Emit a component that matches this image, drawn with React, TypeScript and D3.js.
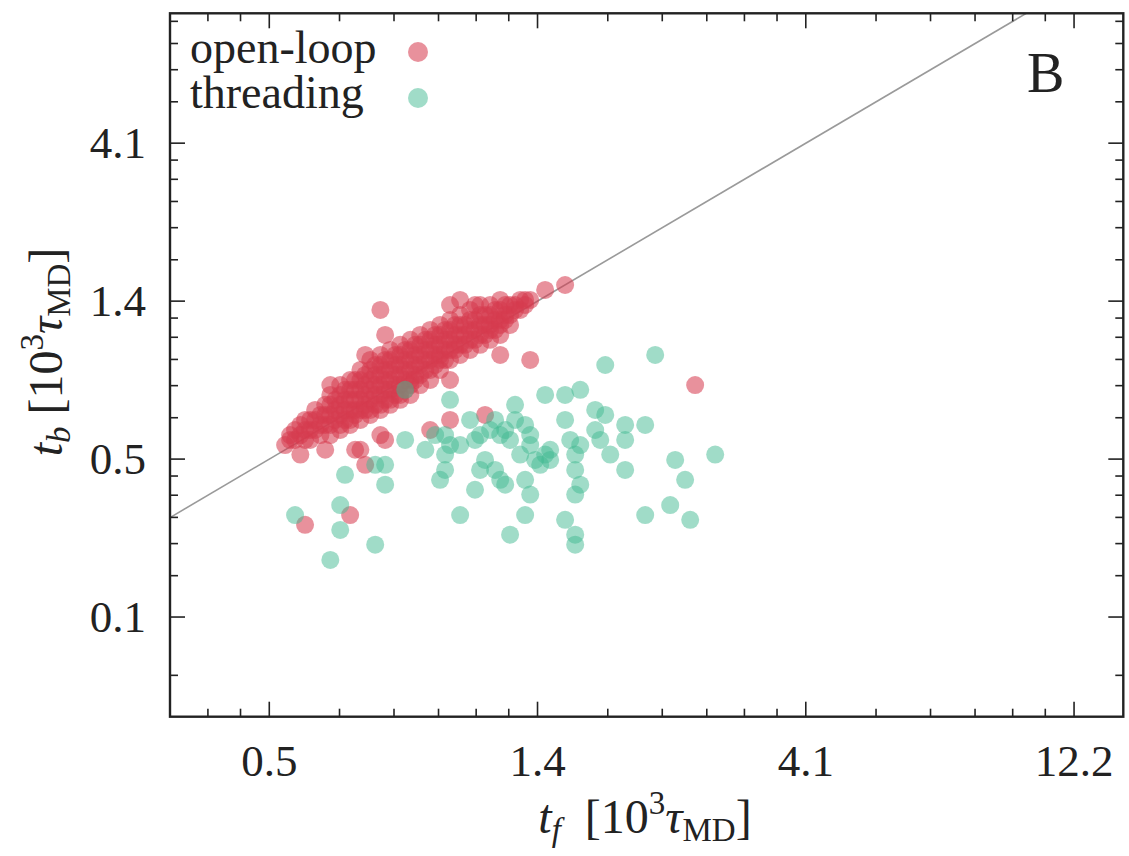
import React from "react";
import * as d3 from "d3";

// ---- axes / ticks ----
const xTickValues = [0.4517, 1.355, 4.065, 12.195];
const xTickLabels = ["0.5", "1.4", "4.1", "12.2"];
const yTickValues = [0.1506, 0.4517, 1.355, 4.065];
const yTickLabels = ["0.1", "0.5", "1.4", "4.1"];
const xDomain = [0.3008, 14.92];
const yDomain = [0.0753, 10.03];

// ---- data: [t_f, t_b] in 10^3 tau_MD ----
const openLoop: [number, number][] = [
  // dense band
  [0.492, 0.534], [0.492, 0.516],
  [0.502, 0.553], [0.502, 0.516],
  [0.513, 0.573], [0.513, 0.534],
  [0.523, 0.593], [0.523, 0.553], [0.523, 0.516],
  [0.534, 0.593], [0.534, 0.553],
  [0.545, 0.636], [0.545, 0.593], [0.545, 0.553],
  [0.557, 0.614], [0.557, 0.573],
  [0.568, 0.659], [0.568, 0.614], [0.568, 0.573],
  [0.58, 0.659], [0.58, 0.614], [0.58, 0.573],
  [0.592, 0.682], [0.592, 0.636], [0.592, 0.593],
  [0.604, 0.706], [0.604, 0.659], [0.604, 0.614], [0.604, 0.573],
  [0.616, 0.731], [0.616, 0.682], [0.616, 0.636], [0.616, 0.593],
  [0.629, 0.731], [0.629, 0.682], [0.629, 0.636], [0.629, 0.593],
  [0.642, 0.783], [0.642, 0.731], [0.642, 0.682], [0.642, 0.636], [0.642, 0.614],
  [0.656, 0.783], [0.656, 0.731], [0.656, 0.682], [0.656, 0.636],
  [0.669, 0.811], [0.669, 0.756], [0.669, 0.706], [0.669, 0.659], [0.669, 0.636],
  [0.683, 0.84], [0.683, 0.783], [0.683, 0.731], [0.683, 0.682], [0.683, 0.636],
  [0.697, 0.869], [0.697, 0.811], [0.697, 0.756], [0.697, 0.706], [0.697, 0.659],
  [0.712, 0.869], [0.712, 0.811], [0.712, 0.756], [0.712, 0.706], [0.712, 0.659],
  [0.726, 0.9], [0.726, 0.84], [0.726, 0.783], [0.726, 0.731], [0.726, 0.682],
  [0.741, 0.9], [0.741, 0.84], [0.741, 0.783], [0.741, 0.731], [0.741, 0.682],
  [0.757, 0.932], [0.757, 0.869], [0.757, 0.811], [0.757, 0.756], [0.757, 0.706],
  [0.772, 0.932], [0.772, 0.869], [0.772, 0.811], [0.772, 0.756], [0.772, 0.706],
  [0.788, 0.965], [0.788, 0.9], [0.788, 0.84], [0.788, 0.783], [0.788, 0.731],
  [0.805, 0.965], [0.805, 0.9], [0.805, 0.84], [0.805, 0.783], [0.805, 0.756],
  [0.821, 1.0], [0.821, 0.932], [0.821, 0.869], [0.821, 0.811], [0.821, 0.783],
  [0.838, 1.0], [0.838, 0.932], [0.838, 0.869], [0.838, 0.811],
  [0.856, 1.035], [0.856, 0.965], [0.856, 0.9], [0.856, 0.84],
  [0.873, 1.035], [0.873, 0.965], [0.873, 0.9], [0.873, 0.84],
  [0.891, 1.071], [0.891, 1.0], [0.891, 0.932], [0.891, 0.869],
  [0.909, 1.071], [0.909, 1.0], [0.909, 0.932], [0.909, 0.9],
  [0.928, 1.109], [0.928, 1.035], [0.928, 0.965], [0.928, 0.9],
  [0.947, 1.109], [0.947, 1.035], [0.947, 0.965],
  [0.967, 1.148], [0.967, 1.071], [0.967, 1.0], [0.967, 0.965],
  [0.987, 1.148], [0.987, 1.071], [0.987, 1.0],
  [1.007, 1.148], [1.007, 1.071], [1.007, 1.0],
  [1.028, 1.189], [1.028, 1.109], [1.028, 1.035],
  [1.049, 1.189], [1.049, 1.109], [1.049, 1.035],
  [1.071, 1.231], [1.071, 1.148], [1.071, 1.071],
  [1.093, 1.231], [1.093, 1.148], [1.093, 1.071],
  [1.116, 1.231], [1.116, 1.148], [1.116, 1.109],
  [1.139, 1.275], [1.139, 1.189], [1.139, 1.109],
  [1.163, 1.275], [1.163, 1.189], [1.163, 1.148],
  [1.187, 1.319], [1.187, 1.231], [1.187, 1.189],
  [1.211, 1.319], [1.211, 1.231],
  [1.236, 1.319], [1.236, 1.275],
  [1.262, 1.366], [1.262, 1.275],
  [1.288, 1.366], [1.288, 1.319],
  [1.315, 1.366],
  // upper edge of band
  [0.58, 0.706], [0.604, 0.756], [0.629, 0.783], [0.656, 0.84], [0.683, 0.9],
  [0.712, 0.932], [0.741, 0.965], [0.772, 1.0], [0.805, 1.035], [0.838, 1.071],
  [0.873, 1.109], [0.909, 1.148], [0.947, 1.189], [0.987, 1.231], [1.028, 1.275],
  [1.071, 1.319], [1.116, 1.319], [1.163, 1.366],
  // lower edge of band
  [0.534, 0.516], [0.557, 0.534], [0.58, 0.534], [0.604, 0.553], [0.629, 0.573],
  [0.656, 0.593], [0.683, 0.614], [0.712, 0.636], [0.741, 0.659], [0.772, 0.682],
  [0.805, 0.706], [0.838, 0.756], [0.873, 0.783], [0.909, 0.84], [0.947, 0.9],
  [0.987, 0.932], [1.028, 0.965], [1.071, 1.0], [1.116, 1.035], [1.163, 1.071],
  [1.211, 1.148],
  // scattered
  [0.58, 0.756], [0.482, 0.498], [0.523, 0.286], [0.629, 0.306], [0.656, 0.482],
  [0.669, 0.434], [0.712, 0.534], [0.873, 0.553], [0.947, 0.593], [1.093, 0.614],
  [2.584, 0.756], [0.513, 0.466], [0.568, 0.482], [0.712, 1.275], [0.726, 1.071],
  [0.669, 0.932], [0.947, 1.319], [1.049, 1.319], [0.987, 1.366], [1.315, 0.9],
  [1.163, 0.932], [0.947, 0.783], [0.642, 0.482], [0.726, 0.516], [1.398, 1.465],
  [1.517, 1.516],
];

const threading: [number, number][] = [
  [0.947, 0.682], [1.236, 0.659], [1.398, 0.706], [1.614, 0.731], [1.517, 0.706],
  [1.788, 0.869], [2.194, 0.932], [1.028, 0.593], [1.139, 0.593], [1.187, 0.553],
  [1.236, 0.593], [1.071, 0.534], [1.163, 0.534], [1.315, 0.534], [1.517, 0.593],
  [1.716, 0.636], [1.788, 0.614], [1.716, 0.553], [1.94, 0.573], [2.106, 0.573],
  [1.94, 0.516], [1.825, 0.466], [1.752, 0.516], [1.549, 0.516], [1.614, 0.498],
  [1.581, 0.466], [1.581, 0.419], [1.614, 0.378], [1.581, 0.353], [1.398, 0.466],
  [1.342, 0.449], [1.427, 0.449], [1.37, 0.434], [1.427, 0.482], [1.262, 0.466],
  [1.315, 0.498], [0.788, 0.516], [0.856, 0.482], [0.891, 0.534], [0.928, 0.534],
  [0.947, 0.498], [0.928, 0.466], [0.928, 0.419], [0.909, 0.391], [0.987, 0.498],
  [1.049, 0.516], [1.093, 0.449], [1.071, 0.419], [1.139, 0.419], [1.163, 0.391],
  [1.187, 0.378], [1.049, 0.365], [1.288, 0.391], [1.315, 0.353], [0.987, 0.306],
  [1.288, 0.306], [1.211, 0.267], [1.517, 0.296], [1.581, 0.267], [1.581, 0.249],
  [1.94, 0.419], [2.106, 0.306], [2.333, 0.328], [2.381, 0.449], [2.48, 0.391],
  [2.532, 0.296], [2.805, 0.466], [0.697, 0.434], [0.726, 0.434], [0.726, 0.378],
  [0.616, 0.405], [0.604, 0.328], [0.604, 0.276], [0.502, 0.306], [0.58, 0.224],
  [0.697, 0.249], [0.788, 0.731], [1.116, 0.553], [1.288, 0.573], [1.211, 0.516],
];

const legendItems = [
  { label: "open-loop", color: "rgb(214,59,78)", opacity: 0.56 },
  { label: "threading", color: "rgb(65,185,145)", opacity: 0.5 },
];

const W = 1129;
const H = 856;
const L = 170, R = 1123.3, T = 13.3, B = 716.7;
const FONT = "'Liberation Serif', 'Times New Roman', serif";

function minors(majors: number[], lo: number, hi: number, keep: (v: number) => boolean) {
  const ext = [majors[0] / 3, ...majors, majors[majors.length - 1] * 3];
  const out: number[] = [];
  for (let i = 0; i < ext.length - 1; i++) {
    const a = ext[i], b = ext[i + 1];
    for (let k = 1; k < 6; k++) {
      const v = a + (k * (b - a)) / 6;
      if (v > lo && v < hi && keep(v)) out.push(v);
    }
  }
  return out;
}

export default function App() {
  const x = d3.scaleLog().domain(xDomain).range([L, R]);
  const y = d3.scaleLog().domain(yDomain).range([B, T]);

  const xMinor = minors(xTickValues, xDomain[0], xDomain[1], (v) => x(v) > L + 3 && x(v) < R - 3);
  const yMinor = minors(yTickValues, yDomain[0], yDomain[1], (v) => y(v) > T + 3 && y(v) < B - 3)
    .filter((v) => v >= yTickValues[0] || Math.abs(v - 0.1004) < 0.001);

  const major = 15, minor = 8;
  const diag = d3.line<number>().x((d) => x(d)).y((d) => y(d));
  const r = 9;

  return (
    <svg width={W} height={H} style={{ position: "absolute", left: 0, top: 0, background: "#fff" }} fontFamily={FONT}>
      <defs>
        <clipPath id="plotclip">
          <rect x={L} y={T} width={R - L} height={B - T} />
        </clipPath>
      </defs>
      <rect x={0} y={0} width={W} height={H} fill="#fff" />

      {/* diagonal */}
      <path d={diag([xDomain[0], xDomain[1]]) || ""} stroke="#9a9a9a" strokeWidth={1.6} fill="none" clipPath="url(#plotclip)" />

      {/* points */}
      <g clipPath="url(#plotclip)">
        {openLoop.map((d, i) => (
          <circle key={"o" + i} cx={x(d[0])} cy={y(d[1])} r={r} fill={legendItems[0].color} fillOpacity={legendItems[0].opacity} />
        ))}
        {threading.map((d, i) => (
          <circle key={"t" + i} cx={x(d[0])} cy={y(d[1])} r={r} fill={legendItems[1].color} fillOpacity={legendItems[1].opacity} />
        ))}
      </g>

      {/* ticks */}
      <g stroke="#222" strokeWidth={1.6}>
        {xTickValues.map((v, i) => (
          <g key={"xm" + i}>
            <line x1={x(v)} x2={x(v)} y1={B} y2={B - major} />
            <line x1={x(v)} x2={x(v)} y1={T} y2={T + major} />
          </g>
        ))}
        {xMinor.map((v, i) => (
          <g key={"xn" + i}>
            <line x1={x(v)} x2={x(v)} y1={B} y2={B - minor} />
            <line x1={x(v)} x2={x(v)} y1={T} y2={T + minor} />
          </g>
        ))}
        {yTickValues.map((v, i) => (
          <g key={"ym" + i}>
            <line x1={L} x2={L + major} y1={y(v)} y2={y(v)} />
            <line x1={R} x2={R - major} y1={y(v)} y2={y(v)} />
          </g>
        ))}
        {yMinor.map((v, i) => (
          <g key={"yn" + i}>
            <line x1={L} x2={L + minor} y1={y(v)} y2={y(v)} />
            <line x1={R} x2={R - minor} y1={y(v)} y2={y(v)} />
          </g>
        ))}
      </g>

      {/* frame */}
      <rect x={L} y={T} width={R - L} height={B - T} fill="none" stroke="#222" strokeWidth={2.4} />

      {/* tick labels */}
      <g fontSize={45} fill="#222">
        {xTickValues.map((v, i) => (
          <text key={"xl" + i} x={x(v)} y={776} textAnchor="middle">{xTickLabels[i]}</text>
        ))}
        {yTickValues.map((v, i) => (
          <text key={"yl" + i} x={146} y={y(v) + 15} textAnchor="end">{yTickLabels[i]}</text>
        ))}
      </g>

      {/* axis titles */}
      <text x={645} y={833} textAnchor="middle" fontSize={48} fill="#222">
        <tspan fontStyle="italic">t</tspan>
        <tspan fontStyle="italic" fontSize={33} dy={8}>f</tspan>
        <tspan dy={-8}>{"\u00A0\u00A0[10"}</tspan>
        <tspan fontSize={33} dy={-19}>3</tspan>
        <tspan fontStyle="italic" dy={19}>τ</tspan>
        <tspan fontSize={33} dy={8}>MD</tspan>
        <tspan dy={-8}>]</tspan>
      </text>
      <text transform="translate(62,352) rotate(-90)" textAnchor="middle" fontSize={48} fill="#222">
        <tspan fontStyle="italic">t</tspan>
        <tspan fontStyle="italic" fontSize={33} dy={8}>b</tspan>
        <tspan dy={-8}>{"\u00A0[10"}</tspan>
        <tspan fontSize={33} dy={-19}>3</tspan>
        <tspan fontStyle="italic" dy={19}>τ</tspan>
        <tspan fontSize={33} dy={8}>MD</tspan>
        <tspan dy={-8}>]</tspan>
      </text>

      {/* legend */}
      {legendItems.map((it, i) => (
        <g key={"lg" + i}>
          <text x={190} y={63 + i * 45} fontSize={46} fill="#222">{it.label}</text>
          <circle cx={418} cy={52 + i * 46} r={10} fill={it.color} fillOpacity={it.opacity} />
        </g>
      ))}

      {/* panel label */}
      <text x={1027} y={92} fontSize={56} fill="#222">B</text>
    </svg>
  );
}
